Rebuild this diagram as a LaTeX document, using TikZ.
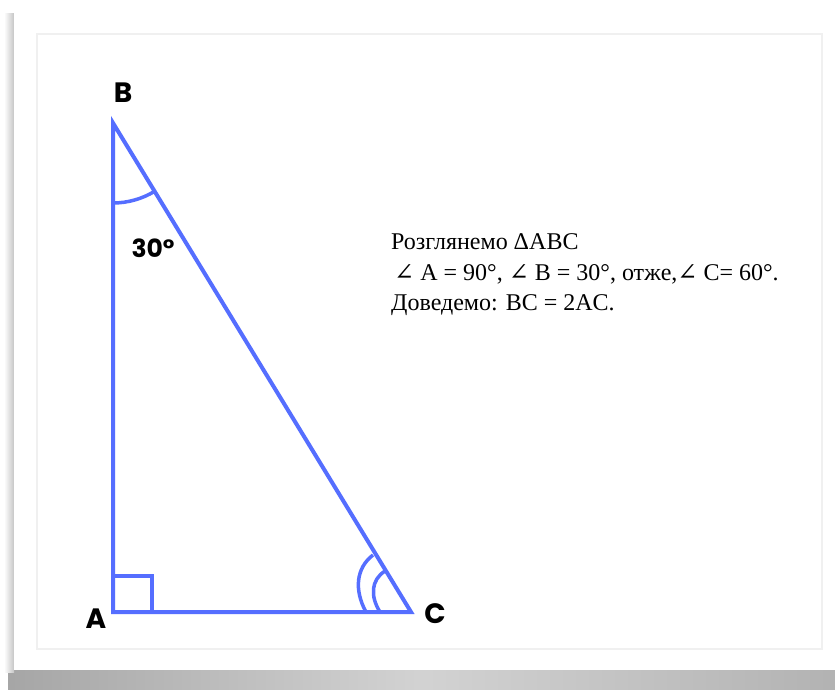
\documentclass[tikz,border=0pt]{standalone}
\usepackage{fontspec}
\setmainfont{Liberation Serif}
\newfontfamily\lblfont{Poppins}
\newfontfamily\symfont{DejaVu Serif}
\definecolor{triblue}{RGB}{85,110,255}
\definecolor{framegray}{RGB}{240,240,240}
\begin{document}
\begin{tikzpicture}[x=1pt, y=-1pt,
    side/.style={draw=triblue, line width=4pt, line join=miter},
    anglemark/.style={draw=triblue, line width=3.5pt},
    vlbl/.style={font=\lblfont\bfseries\fontsize{28}{28}\selectfont, inner sep=0pt},
    txt/.style={font=\fontsize{24}{28}\selectfont, inner sep=0pt, anchor=base west},
  ]
    \useasboundingbox (0,0) rectangle (835,690);

    % card with its shadow
    \shade[left color=gray!70, right color=gray!60, middle color=gray!35]
      (8,670) rectangle (835,690);
    \shade[left color=white, right color=gray!45] (4,14) rectangle (14,672);
    \fill[white] (14,10) rectangle (835,670);
    \draw[framegray, line width=1.5pt] (37,34) rectangle (822,649);

    % vertices
    \coordinate (A) at (113,612);
    \coordinate (B) at (113,123);
    \coordinate (C) at (411,612);

    % triangle
    \draw[side] (A) -- (B) -- (C) -- cycle;

    % right angle at A
    \draw[side] (A) ++(0,-36) -- ++(39,0) -- ++(0,36);

    % angle at B
    \draw[anglemark] (B) ++(90:80) arc[start angle=90, end angle=58.6, radius=80];

    % double mark at C
    \draw[anglemark] (366,612) .. controls (354,590) and (356,568) .. (373,555);
    \draw[anglemark] (380,612) .. controls (370,596) and (371,580) .. (385,571);

    % labels
    \node[vlbl] (lblB) at (123,93) {B};
    \node[vlbl] (lblA) at (96,619) {A};
    \node[vlbl] (lblC) at (435,614) {C};
    \node[vlbl, font=\lblfont\bfseries\fontsize{25}{25}\selectfont] (lbl30) at (153,248) {30°};

    % statement
    \node[txt] (line1) at (391,249) {Розглянемо ΔABC};
    \node[txt] (line2) at (391,280) {\hspace{3pt}{\symfont ∠} A = 90°, {\symfont ∠} B = 30°, отже,{\symfont ∠} C= 60°.};
    \node[txt] (line3) at (391,310) {Доведемо: BC = 2AC.};
\end{tikzpicture}
\end{document}
